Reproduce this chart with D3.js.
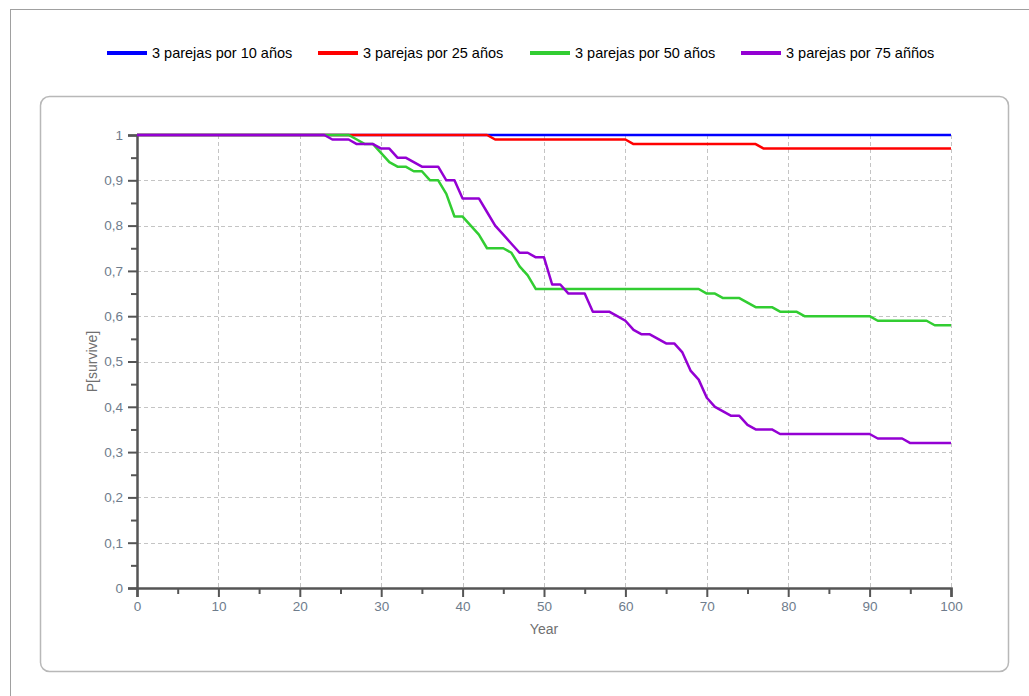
<!DOCTYPE html>
<html><head><meta charset="utf-8">
<script src="https://cdn.jsdelivr.net/npm/d3@7"></script>
<style>body{margin:0;background:#fff;} svg{display:block;}</style>
</head><body><svg id="c" width="1029" height="696"></svg>
<script>
// ---- data ----
const years = d3.range(0, 101);
const seriesNames = ["3 parejas por 10 años", "3 parejas por 25 años", "3 parejas por 50 años", "3 parejas por 75 añños"];
const seriesColors = ["#0000ff", "#ff0000", "#32cd32", "#9400d3"];
const xTicks = [0,10,20,30,40,50,60,70,80,90,100];
const yTicks = [0,0.1,0.2,0.3,0.4,0.5,0.6,0.7,0.8,0.9,1];

const s10 = [
1,1,1,1,1,1,1,1,1,1, 1,1,1,1,1,1,1,1,1,1, 1,1,1,1,1,1,1,1,1,1, 1,1,1,1,1,1,1,1,1,1,
1,1,1,1,1,1,1,1,1,1, 1,1,1,1,1,1,1,1,1,1, 1,1,1,1,1,1,1,1,1,1, 1,1,1,1,1,1,1,1,1,1,
1,1,1,1,1,1,1,1,1,1, 1,1,1,1,1,1,1,1,1,1, 1];
const s25 = [
1,1,1,1,1,1,1,1,1,1, 1,1,1,1,1,1,1,1,1,1, 1,1,1,1,1,1,1,1,1,1, 1,1,1,1,1,1,1,1,1,1,
1,1,1,1,0.99,0.99,0.99,0.99,0.99,0.99, 0.99,0.99,0.99,0.99,0.99,0.99,0.99,0.99,0.99,0.99,
0.99,0.98,0.98,0.98,0.98,0.98,0.98,0.98,0.98,0.98, 0.98,0.98,0.98,0.98,0.98,0.98,0.98,0.97,0.97,0.97,
0.97,0.97,0.97,0.97,0.97,0.97,0.97,0.97,0.97,0.97, 0.97,0.97,0.97,0.97,0.97,0.97,0.97,0.97,0.97,0.97, 0.97];
const s50 = [
1,1,1,1,1,1,1,1,1,1, 1,1,1,1,1,1,1,1,1,1, 1,1,1,1,1,1,1,0.99,0.98,0.98,
0.96,0.94,0.93,0.93,0.92,0.92,0.90,0.90,0.87,0.82, 0.82,0.80,0.78,0.75,0.75,0.75,0.74,0.71,0.69,0.66,
0.66,0.66,0.66,0.66,0.66,0.66,0.66,0.66,0.66,0.66, 0.66,0.66,0.66,0.66,0.66,0.66,0.66,0.66,0.66,0.66,
0.65,0.65,0.64,0.64,0.64,0.63,0.62,0.62,0.62,0.61, 0.61,0.61,0.60,0.60,0.60,0.60,0.60,0.60,0.60,0.60,
0.60,0.59,0.59,0.59,0.59,0.59,0.59,0.59,0.58,0.58, 0.58];
const s75 = [
1,1,1,1,1,1,1,1,1,1, 1,1,1,1,1,1,1,1,1,1, 1,1,1,1,0.99,0.99,0.99,0.98,0.98,0.98,
0.97,0.97,0.95,0.95,0.94,0.93,0.93,0.93,0.90,0.90, 0.86,0.86,0.86,0.83,0.80,0.78,0.76,0.74,0.74,0.73,
0.73,0.67,0.67,0.65,0.65,0.65,0.61,0.61,0.61,0.60, 0.59,0.57,0.56,0.56,0.55,0.54,0.54,0.52,0.48,0.46,
0.42,0.40,0.39,0.38,0.38,0.36,0.35,0.35,0.35,0.34, 0.34,0.34,0.34,0.34,0.34,0.34,0.34,0.34,0.34,0.34,
0.34,0.33,0.33,0.33,0.33,0.32,0.32,0.32,0.32,0.32, 0.32];
const seriesValues = [s10, s25, s50, s75];

// ---- drawing ----
const svg = d3.select("#c");
const FONT = "'Liberation Sans', Arial, sans-serif";

// outer frame
svg.append("rect").attr("x", 10.5).attr("y", 9.5).attr("width", 1030).attr("height", 700)
  .attr("fill", "none").attr("stroke", "#a0a0a0").attr("stroke-width", 1);

// inner rounded box
svg.append("rect").attr("x", 40.5).attr("y", 96.5).attr("width", 968).attr("height", 575)
  .attr("rx", 9).attr("fill", "none").attr("stroke", "#b8b8b8").attr("stroke-width", 1.5);

const x = d3.scaleLinear().domain([0, 100]).range([137, 951]);
const y = d3.scaleLinear().domain([0, 1]).range([588, 135]);

// grid
const grid = svg.append("g").attr("stroke", "#c4c4c4").attr("stroke-width", 1).attr("stroke-dasharray", "4,3");
grid.selectAll("line.v").data(xTicks.filter(d => d > 0)).join("line")
  .attr("x1", d => Math.round(x(d)) + 0.5).attr("x2", d => Math.round(x(d)) + 0.5)
  .attr("y1", y(1)).attr("y2", y(0));
grid.selectAll("line.h").data(yTicks.filter(d => d > 0)).join("line")
  .attr("y1", d => Math.round(y(d)) + 0.5).attr("y2", d => Math.round(y(d)) + 0.5)
  .attr("x1", x(0)).attr("x2", x(100));

const fmtY = d => String(+d.toFixed(1)).replace(".", ",");
const labelColor = "#6e7c8c";

// x axis minor
const xMinor = svg.append("g").attr("transform", `translate(0,${y(0)})`)
  .call(d3.axisBottom(x).tickValues([5,15,25,35,45,55,65,75,85,95]).tickSize(6).tickFormat(""));
const xAxis = svg.append("g").attr("transform", `translate(0,${y(0)})`)
  .call(d3.axisBottom(x).tickValues(xTicks).tickSize(9).tickPadding(4).tickFormat(d => d));
const yMinor = svg.append("g").attr("transform", `translate(${x(0)},0)`)
  .call(d3.axisLeft(y).tickValues([0.05,0.15,0.25,0.35,0.45,0.55,0.65,0.75,0.85,0.95]).tickSize(6).tickFormat(""));
const yAxis = svg.append("g").attr("transform", `translate(${x(0)},0)`)
  .call(d3.axisLeft(y).tickValues(yTicks).tickSize(9).tickPadding(5).tickFormat(fmtY));

[xMinor, xAxis, yMinor, yAxis].forEach(g => {
  g.selectAll(".domain").attr("stroke", "#555").attr("stroke-width", 2.5);
  g.selectAll(".tick line").attr("stroke", "#555").attr("stroke-width", 2);
  g.selectAll(".tick text").attr("fill", labelColor).style("font-family", FONT).style("font-size", "13.5px");
});
xMinor.select(".domain").remove();
yMinor.select(".domain").remove();

// axis titles
svg.append("text").attr("x", (x(0) + x(100)) / 2).attr("y", 634).attr("text-anchor", "middle")
  .attr("fill", "#707070").style("font-family", FONT).style("font-size", "14px").text("Year");
svg.append("text").attr("transform", `translate(97,${(y(0) + y(1)) / 2}) rotate(-90)`).attr("text-anchor", "middle")
  .attr("fill", "#707070").style("font-family", FONT).style("font-size", "14px").text("P[survive]");

// lines
const line = d3.line().x((d, i) => x(years[i])).y(d => y(d));
const plot = svg.append("g");
seriesValues.forEach((vals, k) => {
  plot.append("path").attr("d", line(vals)).attr("fill", "none")
    .attr("stroke", seriesColors[k]).attr("stroke-width", 2.5).attr("stroke-linejoin", "round");
});

// legend
const legendX = [107, 318, 530, 741];
const legend = svg.append("g");
seriesNames.forEach((name, k) => {
  const g = legend.append("g").attr("transform", `translate(${legendX[k]},53)`);
  g.append("line").attr("x1", 0).attr("x2", 40).attr("stroke", seriesColors[k]).attr("stroke-width", 4);
  g.append("text").attr("x", 45).attr("dy", "0.35em").attr("fill", "#000")
    .style("font-family", FONT).style("font-size", "14.5px").text(name);
});
</script></body></html>
